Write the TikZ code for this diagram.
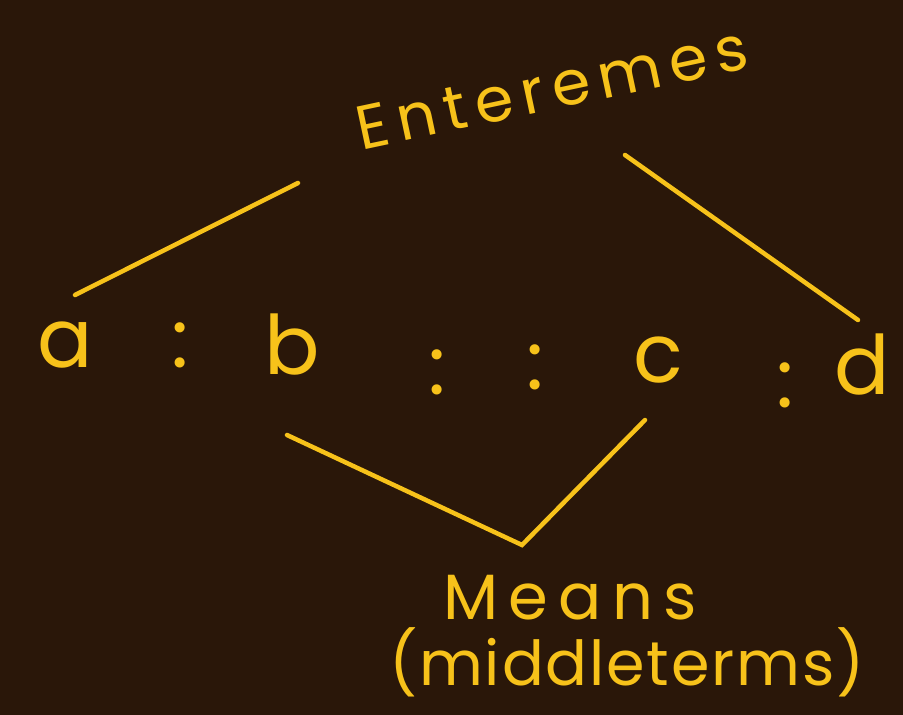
\documentclass[tikz,border=0pt]{standalone}
\usepackage{fontspec}
\setmainfont{Poppins}
\definecolor{bg}{HTML}{2A1709}
\definecolor{chalk}{HTML}{F7C21A}
\begin{document}
\begin{tikzpicture}[x=1pt,y=-1pt,
  hand/.style={text=chalk,inner sep=0pt,font=\fontsize{82}{86}\selectfont},
  lbl/.style={text=chalk,inner sep=0pt,font=\fontsize{62}{66}\selectfont\addfontfeature{LetterSpace=14}},
  stroke/.style={draw=chalk,line width=4.5pt,line cap=round}]
\fill[bg] (0,0) rectangle (903,715);
\useasboundingbox (0,0) rectangle (903,715);
% title
\node[lbl,rotate=12] (ext) at (552,88) {Enteremes};
% proportion
\node[hand] (a) at (65,345) {a};
\node[hand] (c1) at (180,345) {:};
\node[hand] (b) at (292,345) {b};
\node[hand] (c2) at (437,372) {:};
\node[hand] (c3) at (535,367) {:};
\node[hand] (c) at (658,360) {c};
\node[hand] (c4) at (785,385) {:};
\node[hand] (d) at (862,365) {d};
% means label
\node[lbl,font=\fontsize{64}{68}\selectfont\addfontfeature{LetterSpace=16}] (means) at (570,598) {Means};
\node[lbl,font=\fontsize{62}{66}\selectfont\addfontfeature{LetterSpace=3}] (mid) at (627,662) {(middleterms)};
% bracket coordinates
\coordinate (l1) at (75,295);
\coordinate (l2) at (298,183);
\coordinate (r1) at (625,155);
\coordinate (r2) at (858,320);
\coordinate (m1) at (287,435);
\coordinate (m2) at (522,545);
\coordinate (m3) at (645,420);
\draw[stroke] (l1) -- (l2);
\draw[stroke] (r1) -- (r2);
\draw[stroke] (m1) -- (m2) -- (m3);
\end{tikzpicture}
\end{document}
